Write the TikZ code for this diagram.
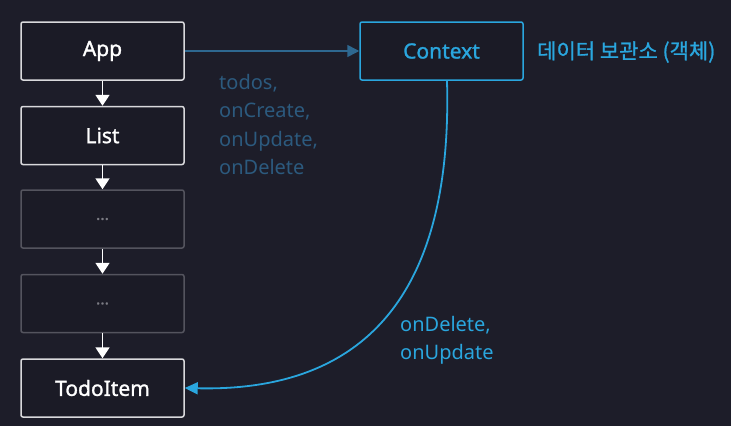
\documentclass[tikz,border=0pt]{standalone}
\usepackage{fontspec}
\setmainfont{Noto Sans}
\newfontfamily\medfont[FakeBold=1.3]{Noto Sans}
\newfontfamily\krfont[FakeBold=1.0]{Noto Sans CJK KR}
\usetikzlibrary{arrows.meta}
\definecolor{bg}{HTML}{1D1D29}
\definecolor{boxfill}{HTML}{1B1B26}
\definecolor{whiteline}{HTML}{D9D9DC}
\definecolor{grayline}{HTML}{54545E}
\definecolor{graytext}{HTML}{7C7C84}
\definecolor{ctxblue}{HTML}{2AA6DE}
\definecolor{dimblue}{HTML}{2E6890}
\definecolor{dimtext}{HTML}{2C5A7E}
\tikzset{
  compbox/.style={draw=whiteline, fill=boxfill, line width=1.5pt, rounded corners=2pt,
    minimum width=163pt, minimum height=58pt, inner sep=0pt, text=white,
    font=\medfont\fontsize{21}{24}\selectfont},
  dotbox/.style={compbox, draw=grayline, text=graytext, font=\medfont\fontsize{16}{18}\selectfont},
  ctxbox/.style={compbox, draw=ctxblue, text=ctxblue},
  downarrow/.style={draw=white, line width=1.8pt, -{Triangle[width=14pt,length=11pt]}},
  lbl/.style={inner sep=0pt, align=left, font=\fontsize{20}{28.5}\selectfont}
}
\begin{document}
\begin{tikzpicture}[x=1pt,y=-1pt]
\fill[bg] (0,0) rectangle (731,426);
\useasboundingbox (0,0) rectangle (731,426);

\node[compbox] (app) at (102.5,51) {App};
\node[compbox] (list) at (102.5,135.5) {List};
\node[dotbox] (d1) at (102.5,219) {...};
\node[dotbox] (d2) at (102.5,303.5) {...};
\node[compbox] (todo) at (102.5,388) {TodoItem};
\node[ctxbox] (ctx) at (441.5,51) {Context};

\node[inner sep=0pt, anchor=west, text=ctxblue, font=\krfont\fontsize{21}{24}\selectfont] (kr) at (537,52) {데이터 보관소 (객체)};

\draw[downarrow] (app) -- (list);
\draw[downarrow] (list) -- (d1);
\draw[downarrow] (d1) -- (d2);
\draw[downarrow] (d2) -- (todo);

\draw[draw=dimblue, line width=1.6pt, -{Triangle[width=12pt,length=12pt]}] (app.east) -- (ctx.west);
\node[lbl, text=dimtext, anchor=north west] (props) at (219,74) {todos,\\onCreate,\\onUpdate,\\onDelete};

\coordinate (cstart) at (447,80);
\draw[draw=ctxblue, line width=1.8pt, -{Triangle[width=12pt,length=13pt]}]
  (ctx.south -| cstart) .. controls (453,300) and (360,392) .. (todo.east);
\node[lbl, text=ctxblue, anchor=north west] (cb) at (400,316) {onDelete,\\onUpdate};
\end{tikzpicture}
\end{document}
